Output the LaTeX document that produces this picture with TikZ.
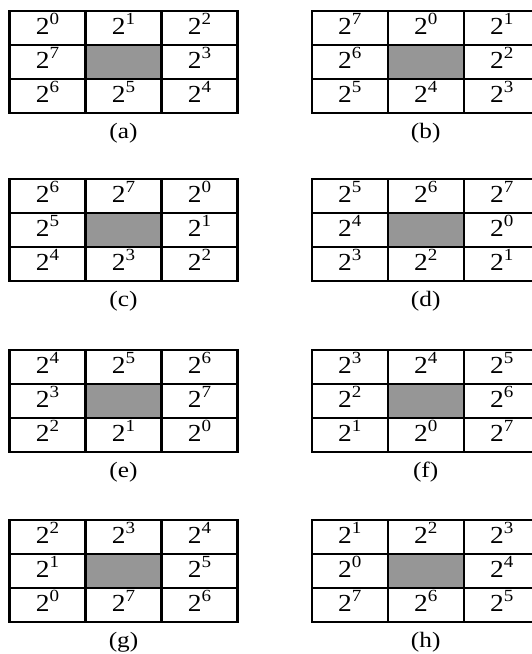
\documentclass[tikz,border=0pt]{standalone}
\usepackage{graphicx}
\usepackage{fontspec}
\setmainfont{Liberation Serif}
\usepackage{xcolor}
\definecolor{holegray}{RGB}{150,150,150}
\newcommand\powtwo[1]{\scalebox{1.12}[1]{2\raisebox{0.4em}{\fontsize{17}{18}\selectfont #1}}}

\begin{document}
\begin{tikzpicture}[
  x=1pt,y=-1pt,
  cell/.style={rectangle,draw=black,line width=2.2pt,minimum width=76pt,
    minimum height=34pt,inner sep=0pt,text depth=8pt,
    font=\fontsize{24.5}{26}\selectfont},
  hole/.style={cell,fill=holegray},
  caption/.style={inner sep=0pt,font=\fontsize{22}{24}\selectfont}
]
  \useasboundingbox (0,0) rectangle (532,654);
  % one grid per shift, the exponents turn round the gray centre
  \foreach \k/\lab/\gx/\gy in {0/a/9.5/10.7, 1/b/311.7/10.7,
      2/c/9.5/179.2, 3/d/311.7/179.2, 4/e/9.5/350.1, 5/f/311.7/350.1,
      6/g/9.5/520, 7/h/311.7/520} {
    \foreach \c/\r/\p in {0/0/0,1/0/1,2/0/2,2/1/3,2/2/4,1/2/5,0/2/6,0/1/7} {
      \pgfmathtruncatemacro\e{mod(\p-\k+8,8)}
      \node[cell] (\lab-\p) at (\gx+76*\c+38,\gy+34*\r+17) {\powtwo{\e}};
    }
    \node[hole] (\lab-mid) at (\gx+114,\gy+51) {};
    \node[caption] (\lab-cap) at (\gx+114,\gy+122.3)
      {\scalebox{1.15}[1]{(\lab)}};
  }
\end{tikzpicture}
\end{document}
